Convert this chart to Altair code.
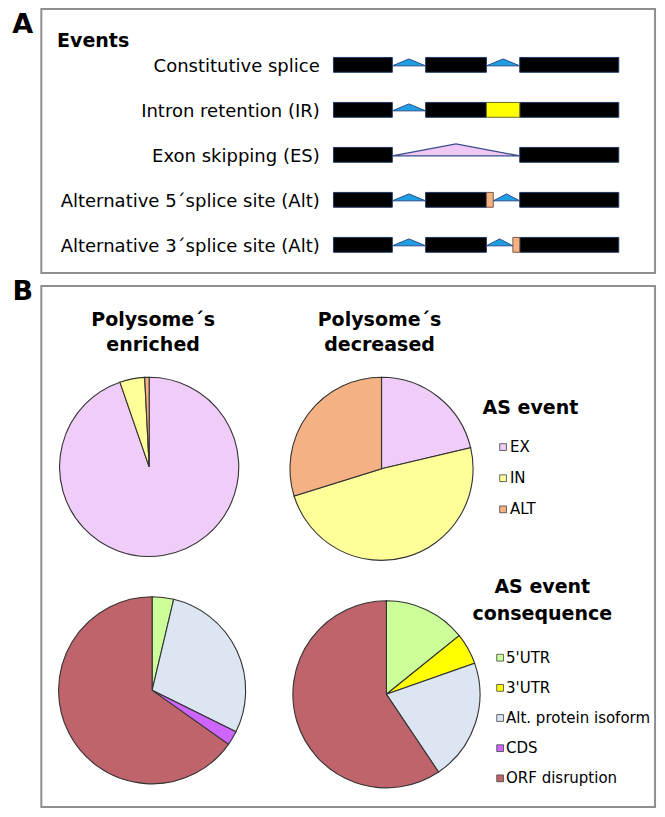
import altair as alt
import pandas as pd

# ---------------- data ----------------
EVENT_LABELS = ["Constitutive splice", "Intron retention (IR)", "Exon skipping (ES)",
                "Alternative 5´splice site (Alt)", "Alternative 3´splice site (Alt)"]
PIE_TITLES = [["Polysome´s", "enriched"], ["Polysome´s", "decreased"]]
AS_TITLE = ["AS event"]
CQ_TITLE = ["AS event", "consequence"]
AS_CATS = ["EX", "IN", "ALT"]
AS_ENRICHED = [94.7, 4.5, 0.8]
AS_DECREASED = [21.3, 48.9, 29.8]
CQ_CATS = ["5'UTR", "3'UTR", "Alt. protein isoform", "CDS", "ORF disruption"]
CQ_ENRICHED = [3.7, 0.0, 28.6, 2.5, 65.2]
CQ_DECREASED = [14.2, 5.4, 21.0, 0.0, 59.4]

# ---------------- styles ----------------
AS_COLORS = ["#F0CCF8", "#FFFF99", "#F4B183"]
CQ_COLORS = ["#CCFF99", "#FFFF00", "#DCE6F2", "#CC66FF", "#C0646B"]
FONT = "DejaVu Sans"

# ---------------- layout (reference pixel frame) ----------------
W, H = 649, 801
XD = [1, 663]
YD = [4, 814]
SX = W / (XD[1] - XD[0])
SY = H / (YD[1] - YD[0])
xs = alt.Scale(domain=XD, nice=False, zero=False)
ys = alt.Scale(domain=[YD[1], YD[0]], nice=False, zero=False)
cscale = alt.Scale(domain=AS_CATS + CQ_CATS, range=AS_COLORS + CQ_COLORS)


def X(f):
    return alt.X(f, type="quantitative", scale=xs, axis=None)


def Y(f):
    return alt.Y(f, type="quantitative", scale=ys, axis=None)


layers = []

# panel boxes
boxes = pd.DataFrame({"x": [35, 35], "x2": [661, 661], "y": [5, 285], "y2": [272, 812]})
layers.append(alt.Chart(boxes).mark_rect(fillOpacity=0, stroke="#8f8f8f", strokeWidth=2).encode(
    x=X("x"), x2="x2", y=Y("y"), y2="y2"))

# ---- panel A gene diagrams ----
ROW_Y0, ROW_DY, EX_H = 61.5, 45.5, 7.5
EXONS = [(333, 393), (427, 489), (523, 624)]
rects = []
for i in range(5):
    cy = ROW_Y0 + ROW_DY * i
    for j, (a, b) in enumerate(EXONS):
        if i == 2 and j == 1:
            continue
        rects.append({"x": a, "x2": b, "y": cy - EX_H, "y2": cy + EX_H, "k": "exon"})
rects.append({"x": 489, "x2": 523, "y": ROW_Y0 + ROW_DY - EX_H, "y2": ROW_Y0 + ROW_DY + EX_H, "k": "ir"})
rects.append({"x": 489, "x2": 496, "y": ROW_Y0 + 3 * ROW_DY - EX_H, "y2": ROW_Y0 + 3 * ROW_DY + EX_H, "k": "alt"})
rects.append({"x": 516, "x2": 523, "y": ROW_Y0 + 4 * ROW_DY - EX_H, "y2": ROW_Y0 + 4 * ROW_DY + EX_H, "k": "alt"})
rdf = pd.DataFrame(rects)
for k, fill, stroke in [("exon", "#000000", "#1F3864"), ("ir", "#FFFF00", "#6b6b2a"), ("alt", "#F4B183", "#7a5a4a")]:
    layers.append(alt.Chart(rdf[rdf.k == k]).mark_rect(fill=fill, stroke=stroke, strokeWidth=1).encode(
        x=X("x"), x2="x2", y=Y("y"), y2="y2"))

blue_tris = [(0, 393, 427), (0, 489, 523), (1, 393, 427), (3, 393, 427), (3, 496, 523),
             (4, 393, 427), (4, 489, 516)]
tri_rows = []
for t, (r, a, b) in enumerate(blue_tris):
    base = ROW_Y0 + ROW_DY * r + 1
    for xx, yy in [(a, base), ((a + b) / 2, base - 7), (b, base)]:
        tri_rows.append({"t": t, "x": xx, "y": yy, "y2": base})
tdf = pd.DataFrame(tri_rows)
layers.append(alt.Chart(tdf).mark_area(fill="#1E9FE3", stroke="#2B4C8C", strokeWidth=1).encode(
    x=X("x"), y=Y("y"), y2="y2", detail="t:N"))
base = ROW_Y0 + ROW_DY * 2 + 1
es = pd.DataFrame({"x": [393, 458, 523], "y": [base, base - 12, base], "y2": [base] * 3})
layers.append(alt.Chart(es).mark_area(fill="#F0C8F4", stroke="#3B4A8C", strokeWidth=1.2).encode(
    x=X("x"), y=Y("y"), y2="y2"))


# ---- texts ----
def text_layer(rows, size, bold=False, align="left"):
    df = pd.DataFrame(rows, columns=["x", "y", "t"])
    return alt.Chart(df).mark_text(font=FONT, fontSize=size, fontWeight="bold" if bold else "normal",
                                   align=align, baseline="middle", color="#000000").encode(
        x=X("x"), y=Y("y"), text="t:N")


layers.append(text_layer([(16, 21, "A"), (16, 291, "B")], 27, True, "center"))
layers.append(text_layer([(51, 37, "Events")], 19, True))
layers.append(text_layer([(319, ROW_Y0 + ROW_DY * i + 2, s) for i, s in enumerate(EVENT_LABELS)], 18, False, "right"))
title_rows = []
for cx, lines in zip([149, 380], PIE_TITLES):
    for k, s in enumerate(lines):
        title_rows.append((cx, 320 + 25 * k, s))
layers.append(text_layer(title_rows, 19, True, "center"))
layers.append(text_layer([(485, 408, AS_TITLE[0])], 19, True))
layers.append(text_layer([(546, 590 + 27 * k, s) for k, s in enumerate(CQ_TITLE)], 19, True, "center"))

# legends
as_leg = pd.DataFrame({"cat": AS_CATS, "x": [506] * 3, "tx": [513] * 3, "y": [448 + 31.5 * i for i in range(3)]})
cq_leg = pd.DataFrame({"cat": CQ_CATS, "x": [503] * 5, "tx": [509] * 5, "y": [661 + 30.5 * i for i in range(5)]})
for leg in [as_leg, cq_leg]:
    layers.append(alt.Chart(leg).mark_square(size=46, stroke="#404040", strokeWidth=0.8, opacity=1).encode(
        x=X("x"), y=Y("y"), color=alt.Color("cat:N", scale=cscale, legend=None)))
    layers.append(alt.Chart(leg).mark_text(font=FONT, fontSize=15, align="left", baseline="middle",
                                           color="#000000").encode(x=X("tx"), y=Y("y"), text="cat:N"))


# ---- pies ----
def pie(cats, vals, cx, cy, r):
    df = pd.DataFrame({"cat": cats, "v": vals, "o": list(range(len(cats)))})
    df = df[df.v > 0]
    return alt.Chart(df).mark_arc(outerRadius=r * (SX + SY) / 2, stroke="#333333", strokeWidth=1.1).encode(
        x=alt.XDatum(cx, type="quantitative", scale=xs, axis=None),
        y=alt.YDatum(cy, type="quantitative", scale=ys, axis=None),
        theta=alt.Theta("v:Q", stack=True),
        order=alt.Order("o:Q"),
        color=alt.Color("cat:N", scale=cscale, legend=None))


layers.append(pie(AS_CATS, AS_ENRICHED, 145, 468, 91))
layers.append(pie(AS_CATS, AS_DECREASED, 382, 470, 93))
layers.append(pie(CQ_CATS, CQ_ENRICHED, 148, 694, 95))
layers.append(pie(CQ_CATS, CQ_DECREASED, 387, 698, 95))

chart = alt.layer(*layers).properties(
    width=W, height=H, padding=0, background="#ffffff",
    autosize=alt.AutoSizeParams(type="none")
).configure_view(strokeWidth=0)

chart.save("out.html", embed_options={"renderer": "svg", "actions": False})
